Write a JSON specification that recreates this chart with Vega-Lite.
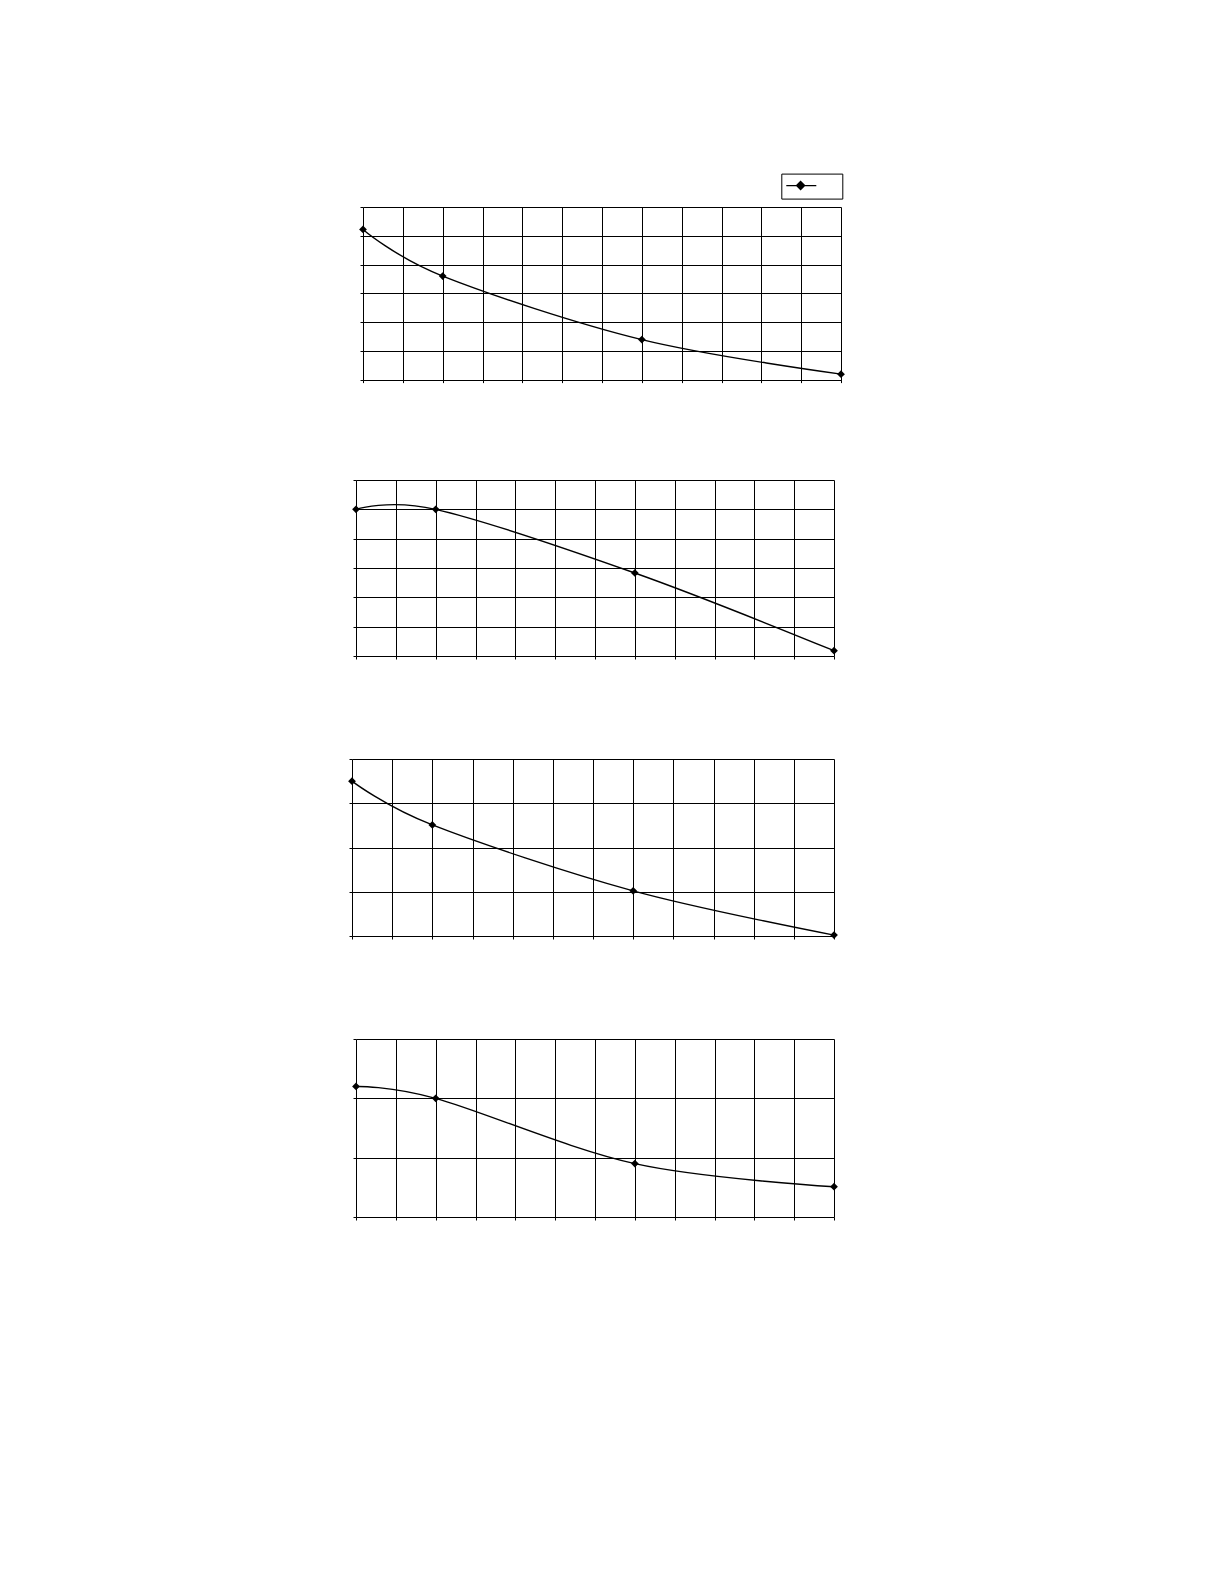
{
  "$schema": "https://vega.github.io/schema/vega-lite/v6.json",
  "background": "white",
  "padding": {"left": 340, "top": 173, "right": 5, "bottom": 5},
  "autosize": {"type": "pad"},
  "spacing": 0,
  "resolve": {"scale": {"color": "independent"}, "legend": {"color": "independent"}},
  "config": {
    "view": {"stroke": null},
    "axis": {
      "labels": false,
      "title": null,
      "domain": false,
      "grid": true,
      "gridColor": "black",
      "gridOpacity": 1,
      "gridWidth": 1,
      "ticks": true,
      "tickColor": "black",
      "tickSize": 3,
      "tickWidth": 1
    },
    "line": {"color": "black", "strokeWidth": 1.4, "interpolate": "cardinal"},
    "point": {"shape": "diamond", "filled": true, "size": 60, "color": "black", "opacity": 1}
  },
  "datasets": {
    "c1": [
      {"x": 0, "y": 5.22, "series": " "},
      {"x": 2, "y": 3.6, "series": " "},
      {"x": 7, "y": 1.39, "series": " "},
      {"x": 12, "y": 0.19, "series": " "}
    ],
    "c2": [
      {"x": 0, "y": 5.0},
      {"x": 2, "y": 5.0},
      {"x": 7, "y": 2.83},
      {"x": 12, "y": 0.18}
    ],
    "c3": [
      {"x": 0, "y": 3.5},
      {"x": 2, "y": 2.51},
      {"x": 7, "y": 1.02},
      {"x": 12, "y": 0.02}
    ],
    "c4": [
      {"x": 0, "y": 2.2},
      {"x": 2, "y": 2.0},
      {"x": 7, "y": 0.9},
      {"x": 12, "y": 0.51}
    ],
    "none": []
  },
  "vconcat": [
    {
      "spacing": 0,
      "resolve": {"scale": {"color": "independent"}, "legend": {"color": "independent"}},
      "hconcat": [
        {"width": 16.7, "height": 10, "data": {"name": "none"}, "mark": "point", "view": {"fill": "white", "stroke": null}},
        {
          "width": 478,
          "height": 172.6,
          "data": {"name": "c1"},
          "encoding": {
            "x": {"field": "x", "type": "quantitative", "scale": {"domain": [0, 12], "nice": false, "zero": false},
                  "axis": {"values": [0,1,2,3,4,5,6,7,8,9,10,11,12], "minExtent": 99.2, "maxExtent": 99.2}},
            "y": {"field": "y", "type": "quantitative", "scale": {"domain": [0, 6], "nice": false},
                  "axis": {"values": [0,1,2,3,4,5,6], "minExtent": 6, "maxExtent": 6}}
          },
          "layer": [
            {
              "mark": {"type": "line"},
              "encoding": {
                "color": {
                  "field": "series", "type": "nominal",
                  "scale": {"range": ["black"]},
                  "legend": {
                    "orient": "none",
                    "legendX": 418.3,
                    "legendY": -33.4,
                    "title": null,
                    "symbolType": "M-1.4,0L4.6,0M1.46,-0.8L2.26,0L1.46,0.8L0.66,0Z",
                    "symbolSize": 100,
                    "symbolStrokeColor": "black",
                    "symbolFillColor": "black",
                    "symbolStrokeWidth": 1,
                    "labelOffset": 37,
                    "labelFontSize": 11,
                    "padding": 6,
                    "strokeColor": "black",
                    "fillColor": "white",
                    "cornerRadius": 0,
                    "encode": {
                      "symbols": {"update": {"fill": {"value": "black"}, "stroke": {"value": "black"}, "strokeWidth": {"value": 1}, "shape": {"value": "M-1.4,0L4.6,0M1.46,-0.8L2.26,0L1.46,0.8L0.66,0Z"}}}
                    }
                  }
                }
              }
            },
            {"mark": {"type": "point"}}
          ]
        }
      ]
    },
    {
      "spacing": 0,
      "hconcat": [
        {"width": 10, "height": 10, "data": {"name": "none"}, "mark": "point", "view": {"fill": "white", "stroke": null}},
        {
          "width": 478,
          "height": 176,
          "data": {"name": "c2"},
          "encoding": {
            "x": {"field": "x", "type": "quantitative", "scale": {"domain": [0, 12], "nice": false, "zero": false},
                  "axis": {"values": [0,1,2,3,4,5,6,7,8,9,10,11,12], "minExtent": 101.8, "maxExtent": 101.8}},
            "y": {"field": "y", "type": "quantitative", "scale": {"domain": [0, 6], "nice": false},
                  "axis": {"values": [0,1,2,3,4,5,6], "minExtent": 6, "maxExtent": 6}}
          },
          "layer": [
            {"mark": {"type": "line"}},
            {"mark": {"type": "point"}}
          ]
        }
      ]
    },
    {
      "spacing": 0,
      "hconcat": [
        {"width": 6, "height": 10, "data": {"name": "none"}, "mark": "point", "view": {"fill": "white", "stroke": null}},
        {
          "width": 482,
          "height": 177,
          "data": {"name": "c3"},
          "encoding": {
            "x": {"field": "x", "type": "quantitative", "scale": {"domain": [0, 12], "nice": false, "zero": false},
                  "axis": {"values": [0,1,2,3,4,5,6,7,8,9,10,11,12], "minExtent": 101.5, "maxExtent": 101.5}},
            "y": {"field": "y", "type": "quantitative", "scale": {"domain": [0, 4], "nice": false},
                  "axis": {"values": [0,1,2,3,4], "minExtent": 6, "maxExtent": 6}}
          },
          "layer": [
            {"mark": {"type": "line"}},
            {"mark": {"type": "point"}}
          ]
        }
      ]
    },
    {
      "spacing": 0,
      "hconcat": [
        {"width": 10, "height": 10, "data": {"name": "none"}, "mark": "point", "view": {"fill": "white", "stroke": null}},
        {
          "width": 478,
          "height": 178,
          "data": {"name": "c4"},
          "encoding": {
            "x": {"field": "x", "type": "quantitative", "scale": {"domain": [0, 12], "nice": false, "zero": false},
                  "axis": {"values": [0,1,2,3,4,5,6,7,8,9,10,11,12], "minExtent": 4, "maxExtent": 4}},
            "y": {"field": "y", "type": "quantitative", "scale": {"domain": [0, 3], "nice": false},
                  "axis": {"values": [0,1,2,3], "minExtent": 6, "maxExtent": 6}}
          },
          "layer": [
            {"mark": {"type": "line"}},
            {"mark": {"type": "point"}}
          ]
        }
      ]
    }
  ]
}
